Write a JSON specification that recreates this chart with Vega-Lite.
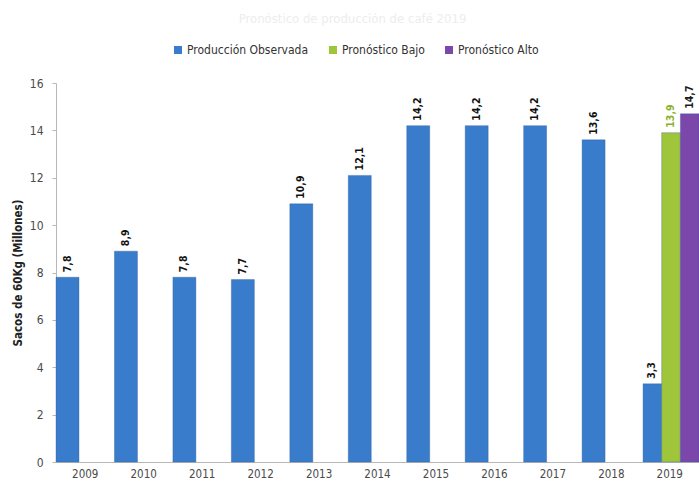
{
  "$schema": "https://vega.github.io/schema/vega-lite/v6.json",
  "width": 643,
  "height": 379,
  "autosize": {"type": "none"},
  "padding": {"left": 56, "top": 83, "right": 0, "bottom": 20},
  "background": "white",
  "title": {
    "text": "Pronóstico de producción de café 2019",
    "color": "#ededed",
    "fontSize": 13,
    "font": "DejaVu Sans Condensed, Liberation Sans, sans-serif",
    "fontWeight": "normal",
    "anchor": "middle",
    "offset": 18,
    "dx": -25
  },
  "data": {
    "values": [
      {"year": "2009", "series": "Producción Observada", "value": 7.8},
      {"year": "2010", "series": "Producción Observada", "value": 8.9},
      {"year": "2011", "series": "Producción Observada", "value": 7.8},
      {"year": "2012", "series": "Producción Observada", "value": 7.7},
      {"year": "2013", "series": "Producción Observada", "value": 10.9},
      {"year": "2014", "series": "Producción Observada", "value": 12.1},
      {"year": "2015", "series": "Producción Observada", "value": 14.2},
      {"year": "2016", "series": "Producción Observada", "value": 14.2},
      {"year": "2017", "series": "Producción Observada", "value": 14.2},
      {"year": "2018", "series": "Producción Observada", "value": 13.6},
      {"year": "2019", "series": "Producción Observada", "value": 3.3},
      {"year": "2019", "series": "Pronóstico Bajo", "value": 13.9},
      {"year": "2019", "series": "Pronóstico Alto", "value": 14.7}
    ]
  },
  "encoding": {
    "x": {
      "field": "year",
      "type": "nominal",
      "scale": {"domain": ["2009", "2010", "2011", "2012", "2013", "2014", "2015", "2016", "2017", "2018", "2019"], "paddingInner": 0, "paddingOuter": 0},
      "axis": {
        "title": null,
        "labelAngle": 0,
        "ticks": false,
        "domainColor": "#b8b8b8",
        "labelColor": "#4a4a4a",
        "labelFont": "DejaVu Sans Condensed, Liberation Sans, sans-serif",
        "labelFontSize": 11.5,
        "labelPadding": 6
      }
    },
    "y": {
      "field": "value",
      "type": "quantitative",
      "scale": {"domain": [0, 16]},
      "axis": {
        "title": "Sacos de 60Kg (Millones)",
        "titleFont": "DejaVu Sans Condensed, Liberation Sans, sans-serif",
        "titleFontSize": 11.5,
        "titleFontWeight": "bold",
        "titleColor": "#222",
        "titlePadding": 6,
        "values": [0, 2, 4, 6, 8, 10, 12, 14, 16],
        "grid": false,
        "domainColor": "#b8b8b8",
        "tickColor": "#b8b8b8",
        "tickSize": 4,
        "labelColor": "#4a4a4a",
        "labelFont": "DejaVu Sans Condensed, Liberation Sans, sans-serif",
        "labelFontSize": 12,
        "labelPadding": 9
      }
    },
    "color": {
      "field": "series",
      "type": "nominal",
      "scale": {
        "domain": ["Producción Observada", "Pronóstico Bajo", "Pronóstico Alto"],
        "range": ["#3a7ccc", "#9fc63a", "#7b47aa"]
      },
      "legend": {
        "title": null,
        "orient": "none",
        "direction": "horizontal",
        "legendX": 116,
        "legendY": -39,
        "symbolType": "square",
        "symbolSize": 64,
        "symbolStrokeWidth": 0,
        "labelFont": "DejaVu Sans Condensed, Liberation Sans, sans-serif",
        "labelFontSize": 12,
        "labelColor": "#333",
        "columnPadding": 18,
        "symbolOffset": 0,
        "labelOffset": 3
      }
    }
  },
  "layer": [
    {
      "transform": [{"filter": "datum.year !== '2019'"}],
      "encoding": {
        "xOffset": {
          "field": "series",
          "type": "nominal",
          "scale": {"domain": ["Producción Observada"], "range": [0, 23], "paddingInner": 0, "paddingOuter": 0}
        }
      },
      "layer": [
        {"mark": {"type": "bar", "stroke": "#2c5c9a", "strokeWidth": 0.6, "strokeOpacity": 0.6}},
        {
          "mark": {"type": "text", "angle": 270, "align": "left", "baseline": "middle", "dx": 5, "font": "DejaVu Sans Condensed, Liberation Sans, sans-serif", "fontSize": 10.5, "fontWeight": "bold", "color": "#111111"},
          "encoding": {
            "text": {"field": "value", "type": "quantitative", "format": ".1f"},
            "color": {"value": "#111111"}
          }
        }
      ]
    },
    {
      "transform": [{"filter": "datum.year === '2019'"}],
      "encoding": {
        "xOffset": {
          "field": "series",
          "type": "nominal",
          "scale": {"domain": ["Producción Observada", "Pronóstico Bajo", "Pronóstico Alto"], "range": [2.5, 58.5], "paddingInner": 0, "paddingOuter": 0}
        }
      },
      "layer": [
        {"mark": {"type": "bar", "stroke": "#2c5c9a", "strokeWidth": 0.6, "strokeOpacity": 0.6}},
        {
          "mark": {"type": "text", "angle": 270, "align": "left", "baseline": "middle", "dx": 5, "font": "DejaVu Sans Condensed, Liberation Sans, sans-serif", "fontSize": 10.5, "fontWeight": "bold"},
          "encoding": {
            "text": {"field": "value", "type": "quantitative", "format": ".1f"},
            "color": {
              "condition": {"test": "datum.series === 'Pronóstico Bajo'", "value": "#8db02a"},
              "value": "#1a1a1a"
            }
          }
        }
      ]
    }
  ],
  "resolve": {"scale": {"xOffset": "independent"}},
  "config": {
    "view": {"stroke": null},
    "locale": {
      "number": {"decimal": ",", "thousands": ".", "grouping": [3], "currency": ["", " €"]}
    }
  }
}
